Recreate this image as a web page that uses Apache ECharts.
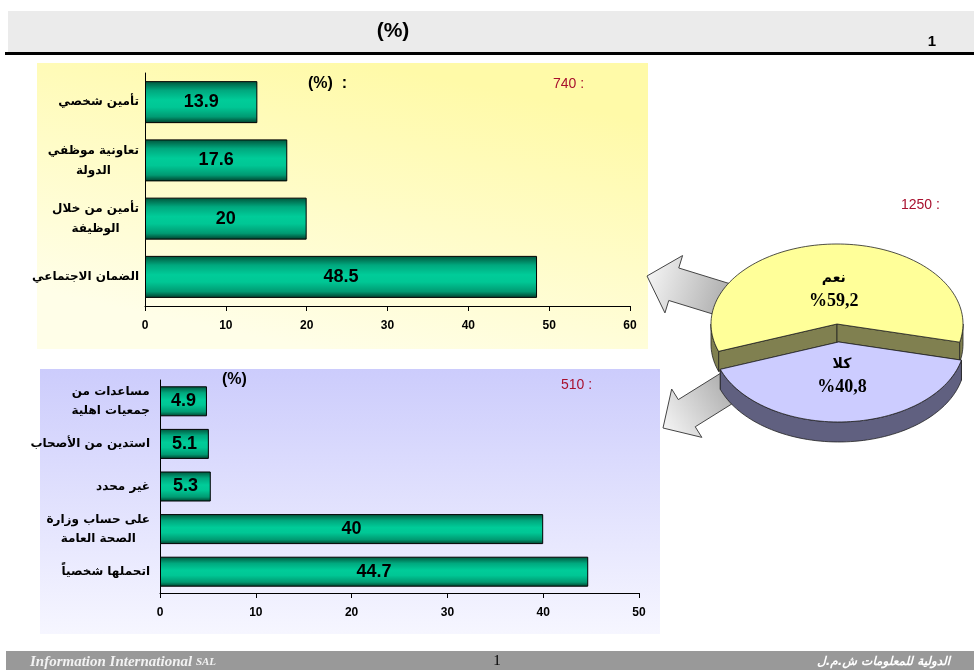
<!DOCTYPE html>
<html>
<head>
<meta charset="utf-8">
<script src="https://cdn.jsdelivr.net/npm/echarts@6/dist/echarts.min.js"></script>
<style>
html,body{margin:0;padding:0;background:#ffffff;}
#c{width:974px;height:670px;}
</style>
</head>
<body>
<div id="c"></div>
<script>
// ---------- data ----------
const titleText = '(%)';
const pageNumber = '1';
const insCategories = ['تأمين شخصي', 'تعاونية موظفي\nالدولة', 'تأمين من خلال\nالوظيفة', 'الضمان الاجتماعي'];
const insValues = [13.9, 17.6, 20, 48.5];
const insTicks = [0, 10, 20, 30, 40, 50, 60];
const insNote = '(%)  :';
const insCount = '740 :';

const payCategories = ['مساعدات من\nجمعيات اهلية', 'استدين من الأصحاب', 'غير محدد', 'على حساب وزارة\nالصحة العامة', 'اتحملها شخصياً'];
const payValues = [4.9, 5.1, 5.3, 40, 44.7];
const payTicks = [0, 10, 20, 30, 40, 50];
const payNote = '(%)';
const payCount = '510 :';

const pieNames = ['نعم', 'كلا'];
const pieValues = [59.2, 40.8];
const pieCount = '1250 :';

const footerLeft = 'Information International ';
const footerLeftSmall = 'SAL';
const footerRight = 'الدولية للمعلومات ش.م.ل';

// ---------- styles ----------
const LAT = 'Liberation Sans, Arial, DejaVu Sans, sans-serif';
const AR = 'DejaVu Sans, Liberation Sans, sans-serif';
const SERIF = 'Liberation Serif, DejaVu Serif, DejaVu Sans, serif';
const RED = '#a8102e';

function barFill() {
  return new echarts.graphic.LinearGradient(0, 0, 0, 1, [
    {offset: 0, color: '#00533a'},
    {offset: 0.22, color: '#00a87e'},
    {offset: 0.45, color: '#00cc99'},
    {offset: 0.62, color: '#00c795'},
    {offset: 0.85, color: '#009a72'},
    {offset: 1, color: '#003d2a'}
  ]);
}

const PIE = {cx: 837, cy: 324, rx: 126, ry: 80, depth: 20, start: 160, explode: [0, 0.225]};
const pieTop = ['#ffff99', '#ccccff'];
const pieSide = ['#808050', '#606080'];

function ept(a, ox, oy, dz) {
  const r = a * Math.PI / 180;
  return [PIE.cx + ox + PIE.rx * Math.cos(r), PIE.cy + oy + PIE.ry * Math.sin(r) + dz];
}
function arc(a1, a2, ox, oy, dz) {
  const pts = [];
  const n = Math.max(2, Math.ceil(Math.abs(a2 - a1) / 2));
  for (let i = 0; i <= n; i++) pts.push(ept(a1 + (a2 - a1) * i / n, ox, oy, dz));
  return pts;
}

function arrow(tail, tip, sw, hw, hl) {
  const dx = tip[0] - tail[0], dy = tip[1] - tail[1];
  const L = Math.sqrt(dx * dx + dy * dy);
  const ux = dx / L, uy = dy / L, nx = -uy, ny = ux;
  const bx = tip[0] - ux * hl, by = tip[1] - uy * hl;
  return [
    [tail[0] + nx * sw / 2, tail[1] + ny * sw / 2],
    [bx + nx * sw / 2, by + ny * sw / 2],
    [bx + nx * hw / 2, by + ny * hw / 2],
    tip,
    [bx - nx * hw / 2, by - ny * hw / 2],
    [bx - nx * sw / 2, by - ny * sw / 2],
    [tail[0] - nx * sw / 2, tail[1] - ny * sw / 2]
  ];
}
function arrowFill(tail, tip) {
  return new echarts.graphic.LinearGradient(tip[0], tip[1], tail[0], tail[1], [
    {offset: 0, color: '#f4f4f4'},
    {offset: 1, color: '#a4a4a4'}
  ], true);
}
const arrowUp = {tail: [738, 304], tip: [647, 276]};
const arrowDown = {tail: [740, 380], tip: [663, 428]};

function catFormatter(v) {
  return v.split('\n').map(l => '{c|' + l + '}').join('\n');
}

function valueAxis(grid, ticks) {
  return {
    type: 'value', gridIndex: grid,
    min: ticks[0], max: ticks[ticks.length - 1], interval: ticks[1] - ticks[0],
    axisLine: {show: true, lineStyle: {color: '#000', width: 1}},
    axisTick: {show: true, length: 5, lineStyle: {color: '#000'}},
    splitLine: {show: false},
    axisLabel: {color: '#000', fontSize: 12, fontWeight: 'bold', fontFamily: LAT, margin: 14}
  };
}
function catAxis(grid, cats, margin, lh) {
  return {
    type: 'category', gridIndex: grid, data: cats, inverse: true,
    axisLine: {show: true, lineStyle: {color: '#000', width: 1}},
    axisTick: {show: false},
    splitLine: {show: false},
    axisLabel: {
      margin: margin, formatter: catFormatter, color: '#000',
      fontSize: 12, fontWeight: 'bold', fontFamily: AR,
      rich: {c: {align: 'center', fontSize: 12, fontWeight: 'bold', fontFamily: AR, color: '#000', lineHeight: lh}}
    }
  };
}
function barLabel() {
  return {show: true, position: 'inside', color: '#000', fontSize: 18, fontWeight: 'bold', fontFamily: LAT};
}

const chart = echarts.init(document.getElementById('c'), null, {renderer: 'canvas'});

const option = {
  backgroundColor: '#ffffff',
  animation: false,
  grid: [
    {left: 145, top: 73, width: 485, height: 233, outerBoundsMode: 'none', containLabel: false},
    {left: 160, top: 380, width: 479, height: 213, outerBoundsMode: 'none', containLabel: false}
  ],
  xAxis: [valueAxis(0, insTicks), valueAxis(1, payTicks)],
  yAxis: [catAxis(0, insCategories, 6, 20), catAxis(1, payCategories, 10, 19)],
  series: [
    {
      type: 'bar', xAxisIndex: 0, yAxisIndex: 0, data: insValues, barWidth: 42,
      itemStyle: {color: barFill(), borderColor: '#000', borderWidth: 1},
      label: barLabel(), z: 3
    },
    {
      type: 'bar', xAxisIndex: 1, yAxisIndex: 1, data: payValues, barWidth: 30,
      itemStyle: {color: barFill(), borderColor: '#000', borderWidth: 1},
      label: barLabel(), z: 3
    },
    {
      type: 'custom', coordinateSystem: 'none', z: 5,
      data: pieValues.map((v, i) => ({name: pieNames[i], value: v})),
      renderItem: function (params, api) {
        const i = params.dataIndex;
        const total = pieValues.reduce((a, b) => a + b, 0);
        let s = PIE.start;
        for (let k = 0; k < i; k++) s += pieValues[k] / total * 360;
        const e = s + api.value(0) / total * 360;
        const mid = (s + e) / 2 * Math.PI / 180;
        const ex = PIE.explode[i];
        const ox = ex * PIE.rx * Math.cos(mid), oy = ex * PIE.ry * Math.sin(mid);
        const c = [PIE.cx + ox, PIE.cy + oy];
        const D = PIE.depth;
        const stroke = {stroke: '#222', lineWidth: 0.8, lineJoin: 'round'};
        const children = [];
        [s, e].forEach(a => {
          const p = ept(a, ox, oy, 0);
          children.push({type: 'polygon', shape: {points: [c, p, [p[0], p[1] + D], [c[0], c[1] + D]]},
            style: Object.assign({fill: pieSide[i]}, stroke)});
        });
        [[0, 180], [360, 540]].forEach(r => {
          const a = Math.max(s, r[0]), b = Math.min(e, r[1]);
          if (b > a) {
            children.push({type: 'polygon', shape: {points: arc(a, b, ox, oy, 0).concat(arc(b, a, ox, oy, D))},
              style: Object.assign({fill: pieSide[i]}, stroke)});
          }
        });
        children.push({type: 'polygon', shape: {points: [c].concat(arc(s, e, ox, oy, 0))},
          style: Object.assign({fill: pieTop[i]}, stroke)});
        const lr = 0.43;
        children.push({
          type: 'text',
          x: c[0] + lr * PIE.rx * Math.cos(mid), y: c[1] + lr * PIE.ry * Math.sin(mid),
          style: {
            text: '{n|' + pieNames[i] + '}\n{v|%' + String(api.value(0)).replace('.', ',') + '}',
            align: 'center', verticalAlign: 'middle',
            rich: {
              n: {fill: '#000', fontSize: 14, fontWeight: 'bold', fontFamily: AR, lineHeight: 23, align: 'center'},
              v: {fill: '#000', fontSize: 18, fontWeight: 'bold', fontFamily: SERIF, lineHeight: 23, align: 'center'}
            }
          }
        });
        return {type: 'group', children: children};
      }
    }
  ],
  graphic: [
    // header
    {type: 'rect', z: -10, shape: {x: 8, y: 11, width: 966, height: 41}, style: {fill: '#ebebeb'}},
    {type: 'rect', z: -9, shape: {x: 5, y: 52, width: 969, height: 3}, style: {fill: '#000'}},
    {type: 'text', z: 10, x: 393, y: 31, style: {text: titleText, fill: '#000', fontSize: 21, fontWeight: 'bold', fontFamily: LAT, align: 'center', verticalAlign: 'middle'}},
    {type: 'text', z: 10, x: 932, y: 42, style: {text: pageNumber, fill: '#000', fontSize: 15, fontWeight: 'bold', fontFamily: LAT, align: 'center', verticalAlign: 'middle'}},
    // panels
    {type: 'rect', z: -10, shape: {x: 37, y: 63, width: 611, height: 286},
      style: {fill: new echarts.graphic.LinearGradient(0.55, 0, 0.45, 1, [{offset: 0, color: '#fffaa8'}, {offset: 1, color: '#fffee8'}])}},
    {type: 'rect', z: -10, shape: {x: 40, y: 369, width: 620, height: 265},
      style: {fill: new echarts.graphic.LinearGradient(0, 0, 0, 1, [{offset: 0, color: '#ccccfc'}, {offset: 1, color: '#f6f6ff'}])}},
    // panel notes
    {type: 'text', z: 10, x: 308, y: 84, style: {text: insNote, fill: '#000', fontSize: 16, fontWeight: 'bold', fontFamily: LAT, verticalAlign: 'middle'}},
    {type: 'text', z: 10, x: 553, y: 84, style: {text: insCount, fill: RED, fontSize: 14, fontFamily: LAT, verticalAlign: 'middle'}},
    {type: 'text', z: 10, x: 222, y: 380, style: {text: payNote, fill: '#000', fontSize: 16, fontWeight: 'bold', fontFamily: LAT, verticalAlign: 'middle'}},
    {type: 'text', z: 10, x: 561, y: 385, style: {text: payCount, fill: RED, fontSize: 14, fontFamily: LAT, verticalAlign: 'middle'}},
    {type: 'text', z: 10, x: 901, y: 205, style: {text: pieCount, fill: RED, fontSize: 14, fontFamily: LAT, verticalAlign: 'middle'}},
    // arrows
    {type: 'polygon', z: 1, shape: {points: arrow(arrowUp.tail, arrowUp.tip, 34, 60, 28)},
      style: {fill: arrowFill(arrowUp.tail, arrowUp.tip), stroke: '#444', lineWidth: 1}},
    {type: 'polygon', z: 1, shape: {points: arrow(arrowDown.tail, arrowDown.tip, 32, 57, 28)},
      style: {fill: arrowFill(arrowDown.tail, arrowDown.tip), stroke: '#444', lineWidth: 1}},
    // footer
    {type: 'rect', z: -10, shape: {x: 6, y: 651, width: 968, height: 19}, style: {fill: '#999999'}},
    {type: 'text', z: 10, x: 30, y: 662, style: {
      text: '{a|' + footerLeft + '}{b|' + footerLeftSmall + '}', verticalAlign: 'middle',
      rich: {
        a: {fill: '#f2f2f2', fontSize: 15, fontStyle: 'italic', fontWeight: 'bold', fontFamily: 'Liberation Serif, serif'},
        b: {fill: '#f2f2f2', fontSize: 11, fontStyle: 'italic', fontWeight: 'bold', fontFamily: 'Liberation Serif, serif'}
      }}},
    {type: 'text', z: 10, x: 497, y: 661, style: {text: pageNumber, fill: '#000', fontSize: 15, fontFamily: 'Liberation Serif, serif', align: 'center', verticalAlign: 'middle'}},
    {type: 'text', z: 10, x: 950, y: 662, style: {text: footerRight, fill: '#ffffff', fontSize: 12, fontStyle: 'italic', fontWeight: 'bold', fontFamily: AR, align: 'right', verticalAlign: 'middle',
      textShadowColor: '#333', textShadowOffsetX: 1, textShadowOffsetY: 1, textShadowBlur: 0}}
  ]
};
chart.setOption(option);
</script>
</body>
</html>
